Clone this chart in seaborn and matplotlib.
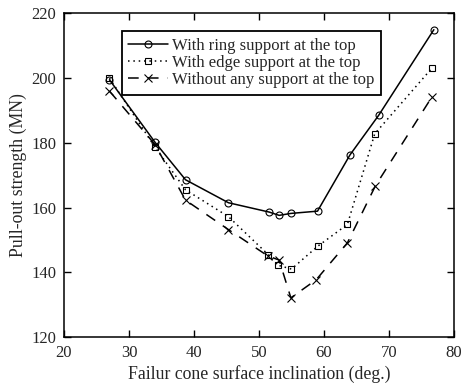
import matplotlib
matplotlib.use("Agg")
import matplotlib.pyplot as plt
import seaborn as sns
import pandas as pd

# Data
ring_x = [27.0, 34.0, 38.7, 45.3, 51.6, 53.1, 54.9, 59.0, 64.0, 68.4, 76.9]
ring_y = [199.5, 180.2, 168.6, 161.5, 158.6, 157.6, 158.2, 158.9, 176.3, 188.5, 215.0]

edge_x = [27.0, 34.0, 38.7, 45.3, 51.4, 52.9, 55.0, 59.0, 63.6, 67.8, 76.6]
edge_y = [200.0, 178.7, 165.5, 157.2, 145.5, 142.2, 141.0, 148.0, 154.8, 182.8, 203.1]

none_x = [27.0, 34.0, 38.7, 45.3, 51.4, 53.1, 54.9, 58.8, 63.6, 67.9, 76.6]
none_y = [196.0, 179.5, 162.3, 153.2, 145.0, 143.8, 132.1, 137.7, 149.1, 166.7, 194.2]

labels = ["With ring support at the top",
          "With edge support at the top",
          "Without any support at the top"]

x_ticks = [20, 30, 40, 50, 60, 70, 80]
y_ticks = [120, 140, 160, 180, 200, 220]

sns.set_style("ticks")
plt.rcParams['font.family'] = ['Liberation Serif', 'DejaVu Serif']
plt.rcParams['xtick.direction'] = 'in'
plt.rcParams['ytick.direction'] = 'in'

fig = plt.figure(figsize=(4.62, 3.91), dpi=100)
ax = fig.add_axes([0.1385, 0.1381, 0.8442, 0.8274])

common = dict(color='black', estimator=None, sort=False, ax=ax, lw=1.1,
              markerfacecolor='none', markeredgecolor='black', markeredgewidth=0.8)

sns.lineplot(x=ring_x, y=ring_y, marker='o', markersize=5, linestyle='-',
             label=labels[0], **common)
sns.lineplot(x=edge_x, y=edge_y, marker='s', markersize=5, linestyle=(0, (1, 2.5)),
             label=labels[1], **common)
sns.lineplot(x=none_x, y=none_y, marker='x', markersize=6, linestyle=(0, (7, 6)),
             label=labels[2], **common)

ax.set_xlim(20, 80)
ax.set_ylim(120, 220)
ax.set_xticks(x_ticks)
ax.set_yticks(y_ticks)
ax.tick_params(axis='both', which='both', top=True, right=True, labelsize=12,
               length=5, width=1, color='black', pad=5.5)
for s in ax.spines.values():
    s.set_color('black')
    s.set_linewidth(1.1)

ax.set_xlabel("Failur cone surface inclination (deg.)", fontsize=12.8, labelpad=3.5)
ax.set_ylabel("Pull-out strength (MN)", fontsize=12.8, labelpad=3)

leg = ax.legend(loc='upper center', bbox_to_anchor=(0.48, 0.946), fontsize=12,
                frameon=True, fancybox=False, edgecolor='black', framealpha=1,
                handlelength=2.4, handletextpad=0.2, borderpad=0.4, labelspacing=0.08,
                borderaxespad=0)
leg.get_frame().set_linewidth(1.3)

fig.savefig("out.png", dpi=100)
